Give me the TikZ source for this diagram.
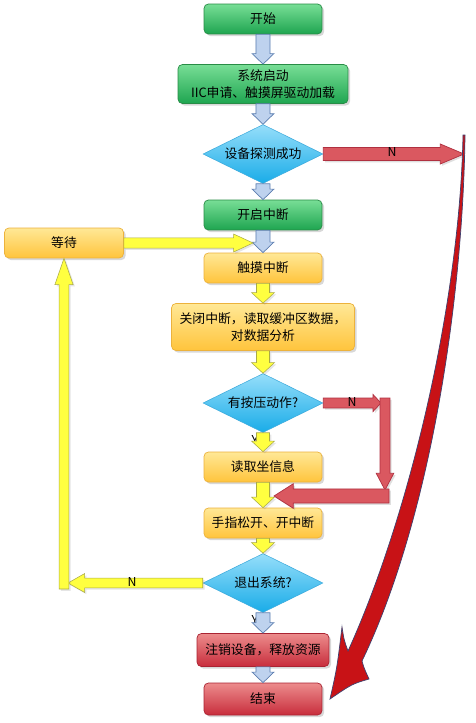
\documentclass[tikz,border=0pt]{standalone}
\usepackage{fontspec}
\usepackage{xcolor}
\usepackage{tikz}
\usetikzlibrary{calc,positioning,shapes.geometric,shadows}
\newfontfamily\cjk{Noto Sans CJK SC}
\definecolor{greenTop}{RGB}{120,222,150}
\definecolor{greenBot}{RGB}{30,165,80}
\definecolor{greenLine}{RGB}{40,140,70}
\definecolor{orangeTop}{RGB}{255,232,150}
\definecolor{orangeBot}{RGB}{255,196,60}
\definecolor{orangeLine}{RGB}{236,178,60}
\definecolor{redTop}{RGB}{236,140,140}
\definecolor{redBot}{RGB}{200,45,60}
\definecolor{redLine}{RGB}{170,35,50}
\definecolor{diaTop}{RGB}{150,222,250}
\definecolor{diaBot}{RGB}{25,172,232}
\definecolor{diaLine}{RGB}{60,170,220}
\definecolor{arrBlue}{RGB}{190,210,238}
\definecolor{arrBlueLine}{RGB}{92,126,176}
\definecolor{arrYellow}{RGB}{255,255,64}
\definecolor{arrYellowLine}{RGB}{170,170,70}
\definecolor{arrRed}{RGB}{218,88,96}
\definecolor{arrRedLine}{RGB}{176,48,64}
\definecolor{bigRed}{RGB}{200,18,22}
\definecolor{bigRedLine}{RGB}{64,64,110}

% block arrow: style, from, to, shaft half width, head half width, head length
\newcommand\blockarrow[6]{%
  \coordinate (ah) at ($(#3)!#6!(#2)$);
  \path[#1] ($(#2)!#4!90:(#3)$) -- ($(ah)!#4!90:(#3)$) -- ($(ah)!#5!90:(#3)$)
    -- (#3) -- ($(ah)!#5!-90:(#3)$) -- ($(ah)!#4!-90:(#3)$) -- ($(#2)!#4!-90:(#3)$) -- cycle;}

\tikzset{
  flowbox/.style={rectangle, rounded corners=2.5pt, minimum width=2.36cm, minimum height=0.6cm,
    align=center, inner sep=1pt, font=\cjk\fontsize{7.3}{10}\selectfont,
    drop shadow={shadow xshift=1.2pt, shadow yshift=-1.2pt, opacity=0.3}},
  greenbox/.style={flowbox, top color=greenTop, bottom color=greenBot, draw=greenLine, line width=0.4pt},
  orangebox/.style={flowbox, top color=orangeTop, bottom color=orangeBot, draw=orangeLine, line width=0.4pt},
  redbox/.style={flowbox, top color=redTop, bottom color=redBot, draw=redLine, line width=0.4pt},
  decision/.style={diamond, aspect=2.6, minimum width=2.4cm, minimum height=1.18cm, inner sep=0pt,
    top color=diaTop, bottom color=diaBot, draw=diaLine, line width=0.3pt,
    font=\cjk\fontsize{7.3}{10}\selectfont},
  bluearr/.style={fill=arrBlue, draw=arrBlueLine, line width=0.4pt},
  yellowarr/.style={fill=arrYellow, draw=arrYellowLine, line width=0.3pt,
    drop shadow={shadow xshift=1pt, shadow yshift=-1pt, opacity=0.2}},
  redarr/.style={fill=arrRed, draw=arrRedLine, line width=0.4pt,
    drop shadow={shadow xshift=1pt, shadow yshift=-1pt, opacity=0.25}},
  nlabel/.style={font=\cjk\fontsize{7}{8}\selectfont, inner sep=0pt},
}

\begin{document}
\begin{tikzpicture}[x=0.02cm, y=-0.02cm]
\useasboundingbox[fill=white] (0,0) rectangle (476,723);

% boxes of the main column
\node[greenbox] (start) at (263,19) {开始};
\node[greenbox, minimum width=3.4cm, minimum height=0.78cm] (boot) at (263,84) {系统启动\\IIC申请、触摸屏驱动加载};
\node[decision] (probe) at (263,154) {设备探测成功};
\node[greenbox] (irqon) at (263,215) {开启中断};
\node[orangebox, minimum width=2.38cm] (wait) at (64,243) {等待};
\node[orangebox] (touch) at (263,268) {触摸中断};
\node[orangebox, minimum width=3.66cm, minimum height=0.94cm] (readbuf) at (263,327) {关闭中断，读取缓冲区数据，\\对数据分析};
\node[decision] (press) at (263,403) {有按压动作?};
\node[orangebox] (coord) at (263,467) {读取坐信息};
\node[orangebox] (release) at (263,523) {手指松开、开中断};
\node[decision] (quit) at (263,583) {退出系统?};
\node[redbox, minimum width=2.64cm, minimum height=0.66cm] (free) at (263,650) {注销设备，释放资源};
\node[redbox, minimum height=0.64cm] (stop) at (263,699) {结束};

% Y marks, mostly hidden by the arrows
\node[nlabel] (ylabA) at (255,440) {Y};
\node[nlabel] (ylabB) at (255,620) {Y};

% straight links down the column
\foreach \a/\b in {start/boot, boot/probe, probe/irqon, irqon/touch, quit/free, free/stop}
  \blockarrow{bluearr}{\a.south}{\b.north}{4pt}{6.2pt}{6pt};
\foreach \a/\b in {touch/readbuf, readbuf/press, press/coord, coord/release, release/quit}
  \blockarrow{yellowarr}{\a.south}{\b.north}{3.7pt}{6.5pt}{6pt};

% wait loop
\coordinate (waitin) at (253,243);
\coordinate (quitl) at (68,583);
\coordinate (quitup) at (64,589);
\blockarrow{yellowarr}{wait.east}{waitin}{2.9pt}{5.1pt}{11pt};
\blockarrow{yellowarr}{quit.west}{quitl}{2.8pt}{5.4pt}{9.5pt};
\blockarrow{yellowarr}{quitup}{wait.south}{2.8pt}{5.2pt}{15pt};
\node[nlabel] (nquit) at (132,582) {N};

% no press: skip reading
\coordinate (pressr) at (381,403);
\coordinate (pressdtop) at (385,398);
\coordinate (pressd) at (385,490);
\coordinate (pressl) at (389,496);
\coordinate (pressin) at (274,496);
\blockarrow{redarr}{press.east}{pressr}{2.8pt}{4.8pt}{4.5pt};
\blockarrow{redarr}{pressdtop}{pressd}{2.8pt}{5pt}{9.5pt};
\blockarrow{redarr}{pressl}{pressin}{4pt}{7pt}{11pt};
\node[nlabel] (npress) at (352,402) {N};

% probe failed
\coordinate (probeout) at (464,154);
\blockarrow{redarr}{probe.east}{probeout}{3.7pt}{5.7pt}{13.5pt};
\node[nlabel] (nprobe) at (392,152) {N};

% long curved arrow to the end
\draw[fill=bigRed, draw=bigRedLine, line width=0.4pt]
  (465,135) .. controls (463,300) and (430,520) .. (362,661)
  .. controls (364,668) .. (369,679)
  .. controls (352,684) .. (330,699)
  .. controls (337,668) .. (342,627)
  .. controls (344,640) .. (348,651)
  .. controls (410,515) and (460,300) .. (463,135) -- cycle;
\end{tikzpicture}
\end{document}
